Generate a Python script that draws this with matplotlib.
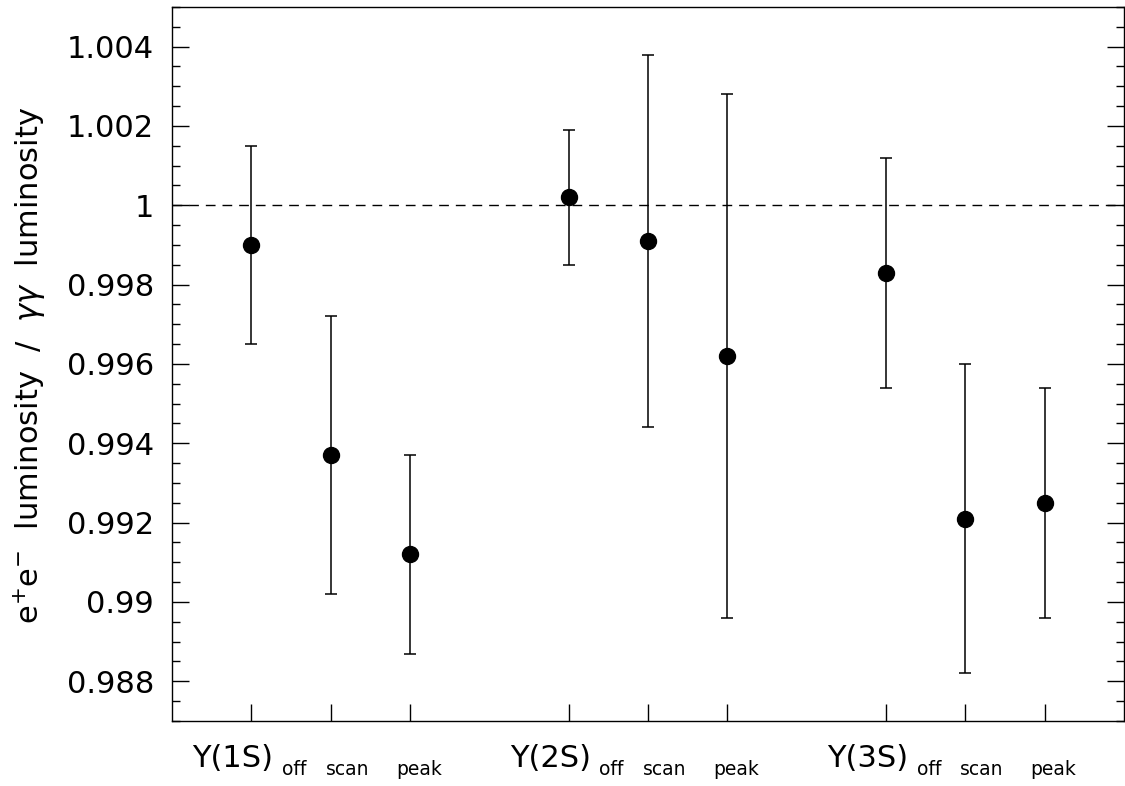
"""
Luminosity ratio (e+e- over gamma-gamma) for the Upsilon off / scan / peak samples.
"""

import numpy as np
import matplotlib

matplotlib.use("Agg")
import matplotlib.pyplot as plt
from matplotlib.ticker import MultipleLocator, FuncFormatter
import matplotlib.transforms as mtransforms

# Data
POSITIONS = [1, 2, 3, 5, 6, 7, 9, 10, 11]
RATIO = [0.9990, 0.9937, 0.9912, 1.0002, 0.9991, 0.9962, 0.9983, 0.9921, 0.9925]
RATIO_ERR = [0.0025, 0.0035, 0.0025, 0.0017, 0.0047, 0.0066, 0.0029, 0.0039, 0.0029]

# Tick labels
RESONANCE_POS = [1, 5, 9]
RESONANCE_LABELS = ["Υ(1S)", "Υ(2S)", "Υ(3S)"]
SAMPLE_POS = [1, 2, 3, 5, 6, 7, 9, 10, 11]
SAMPLE_LABELS = ["off", "scan", "peak", "off", "scan", "peak", "off", "scan", "peak"]

REFERENCE = 1.0


def plot():
    fig = plt.figure(figsize=(11.25, 7.86), dpi=100)
    ax = fig.add_axes([0.1529, 0.0827, 0.8462, 0.9084])

    # Reference line at unity
    ax.axhline(REFERENCE, color="black", lw=1.0, ls=(0, (7, 5)), zorder=1)

    ax.errorbar(
        POSITIONS,
        RATIO,
        yerr=RATIO_ERR,
        fmt="o",
        color="black",
        ms=11.5,
        elinewidth=1.1,
        capsize=4.3,
        capthick=1.1,
        zorder=3,
    )

    ax.set_xlim(0, 12)
    ax.set_ylim(0.987, 1.005)

    # y axis: majors every 0.002, minors every 0.0005, ticks on both sides pointing in
    ax.yaxis.set_major_locator(MultipleLocator(0.002))
    ax.yaxis.set_minor_locator(MultipleLocator(0.0005))
    ax.yaxis.set_major_formatter(FuncFormatter(lambda v, p: "%g" % round(v, 4)))
    ax.tick_params(axis="y", which="both", direction="in", left=True, right=True)
    ax.tick_params(axis="y", which="major", length=12, width=1.0, labelsize=22, pad=13)
    ax.tick_params(axis="y", which="minor", length=6, width=1.0)

    # x axis: ticks only at the samples, labels drawn by hand
    ax.set_xticks(SAMPLE_POS)
    ax.set_xticklabels([])
    ax.tick_params(axis="x", which="both", direction="in", length=12, width=1.0,
                   top=False, bottom=True)
    ax.xaxis.set_minor_locator(matplotlib.ticker.NullLocator())

    for spine in ax.spines.values():
        spine.set_linewidth(1.0)

    trans = mtransforms.blended_transform_factory(ax.transData, ax.transAxes)
    for pos, label in zip(RESONANCE_POS, RESONANCE_LABELS):
        off = mtransforms.offset_copy(trans, fig=fig, x=16.0, y=-33, units="points")
        ax.text(pos, 0, label, transform=off, ha="right", va="baseline",
                fontsize=22, clip_on=False)
    for pos, label in zip(SAMPLE_POS, SAMPLE_LABELS):
        if label == "off":
            dx, ha = 22.0, "left"
        elif label == "scan":
            dx, ha = 12.0, "center"
        else:
            dx, ha = 6.5, "center"
        off = mtransforms.offset_copy(trans, fig=fig, x=dx, y=-39, units="points")
        ax.text(pos, 0, label, transform=off, ha=ha, va="baseline",
                fontsize=13.5, clip_on=False)

    fig.text(0.027, 0.535, r"e$^{+}$e$^{-}$  luminosity  /  $\gamma\gamma$  luminosity",
             rotation=90, ha="center", va="center", fontsize=22)

    fig.savefig("out.png", dpi=100)


def main():
    plot()


main()
